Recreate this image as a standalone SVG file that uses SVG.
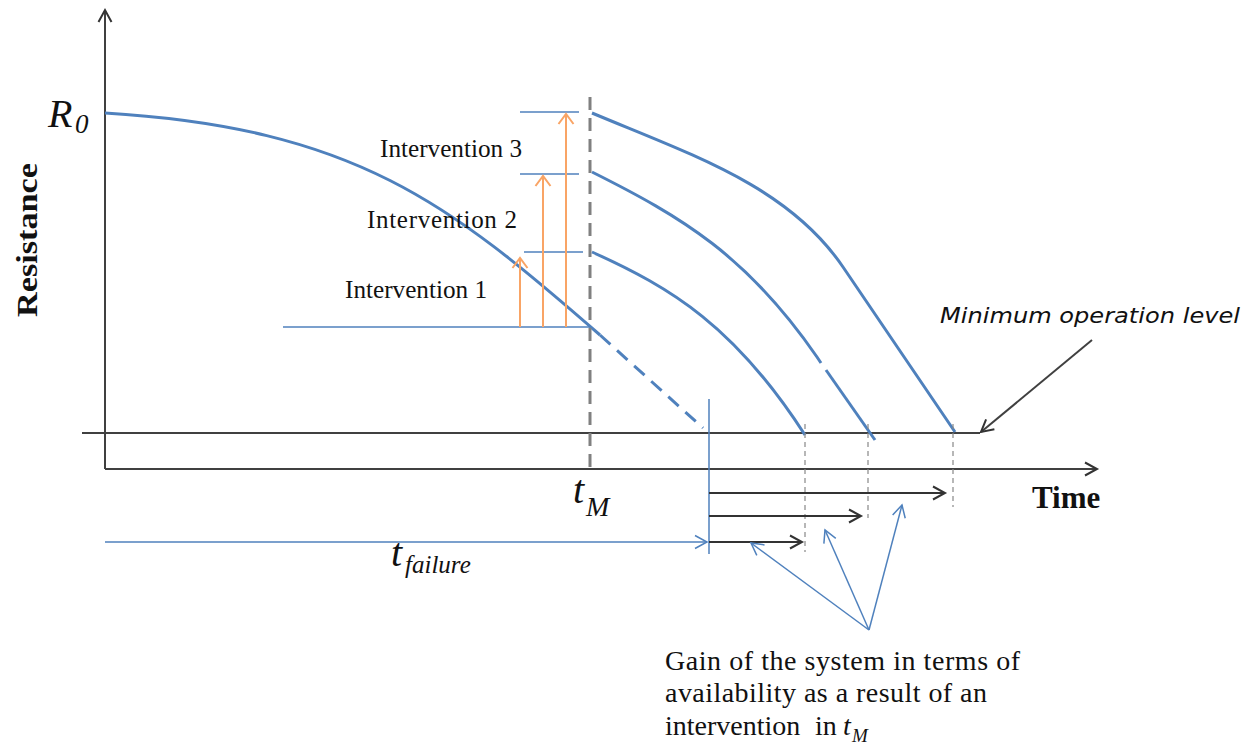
<svg xmlns="http://www.w3.org/2000/svg" width="1252" height="746" viewBox="0 0 1252 746">
<style>
.serif{font-family:"Liberation Serif","Times New Roman",serif;fill:#111}
.it{font-style:italic}
.bold{font-weight:bold}
.sans{font-family:"DejaVu Sans","Liberation Sans",Arial,sans-serif;fill:#111}
.curve{fill:none;stroke:#4F81BD;stroke-width:3}
.thinb{fill:none;stroke:#4F81BD;stroke-width:1.5}
.axis{fill:none;stroke:#404040;stroke-width:2}
.gain{fill:none;stroke:#333;stroke-width:2}
.orange{fill:none;stroke:#F9A465;stroke-width:2}
.vdash{fill:none;stroke:#888;stroke-width:1.2;stroke-dasharray:5 4}
</style>
<defs>
<marker id="ak" markerUnits="userSpaceOnUse" markerWidth="16" markerHeight="16" refX="13" refY="8" orient="auto">
<path d="M1,1.5 L13,8 L1,14.5" fill="none" stroke="#333" stroke-width="2"/>
</marker>
<marker id="ab" markerUnits="userSpaceOnUse" markerWidth="16" markerHeight="16" refX="13" refY="8" orient="auto">
<path d="M1,1.5 L13,8 L1,14.5" fill="none" stroke="#4F81BD" stroke-width="1.5"/>
</marker>
<marker id="ao" markerUnits="userSpaceOnUse" markerWidth="16" markerHeight="18" refX="11" refY="9" orient="auto">
<path d="M1,1.5 L11,9 L1,16.5" fill="none" stroke="#F9A465" stroke-width="2"/>
</marker>
</defs>

<g id="axes">
<path class="axis" d="M105,469 L105,10" marker-end="url(#ak)"/>
<path class="axis" d="M105,469 L1097,469" marker-end="url(#ak)"/>
<path class="axis" d="M82,433 L980,433"/>
</g>

<g id="labels">
<text class="serif bold" x="0" y="0" font-size="30" textLength="154" lengthAdjust="spacingAndGlyphs" text-anchor="middle" transform="translate(37,240) rotate(-90)">Resistance</text>
<text class="serif it" x="48" y="127" font-size="40">R</text>
<text class="serif it" x="75" y="133" font-size="27">0</text>
<text class="serif bold" x="1032" y="508" font-size="31">Time</text>
<text class="serif it" x="573" y="503" font-size="40">t</text>
<text class="serif it" x="586" y="516" font-size="28">M</text>
<text class="serif it" x="391" y="566" font-size="40">t</text>
<text class="serif it" x="405" y="573" font-size="25">failure</text>
</g>

<g id="main-curve">
<path class="curve" d="M105,113 C355,128 450,204 600,335"/>
<path class="curve" d="M600,335 L703,428" stroke-dasharray="14 9"/>
<path class="thinb" d="M283,327 L590,327"/>
</g>

<g id="tM-line">
<path d="M590,97 L590,472" fill="none" stroke="#808080" stroke-width="3" stroke-dasharray="13 8"/>
</g>

<g id="intervention-1">
<path class="thinb" d="M524,252 L583,252"/>
<path class="orange" d="M520,327 L520,258" marker-end="url(#ao)"/>
<text class="serif" x="345" y="298" font-size="25" textLength="142" lengthAdjust="spacingAndGlyphs">Intervention 1</text>
<path class="curve" d="M592,252 C672,288 735,326.5 805,435"/>
</g>

<g id="intervention-2">
<path class="thinb" d="M520,174 L579,174"/>
<path class="orange" d="M543,327 L543,176" marker-end="url(#ao)"/>
<text class="serif" x="367" y="228" font-size="25" textLength="150" lengthAdjust="spacing">Intervention  2</text>
<path class="curve" d="M592,172 C682,217 747,255.5 817,357 L821,363"/>
<path class="curve" d="M826,370 L875,440"/>
</g>

<g id="intervention-3">
<path class="thinb" d="M520,112 L579,112"/>
<path class="orange" d="M566,327 L566,114" marker-end="url(#ao)"/>
<text class="serif" x="380" y="157" font-size="25" textLength="142" lengthAdjust="spacingAndGlyphs">Intervention 3</text>
<path class="curve" d="M592,113 C692,155 788,186 843,267 L955,432"/>
</g>

<g id="minimum-level-label">
<text class="sans it" x="940" y="323" font-size="22" textLength="300" lengthAdjust="spacingAndGlyphs">Minimum operation level</text>
</g>

<g id="connectors">
<path class="axis" d="M1092,340 L981,432" marker-end="url(#ak)"/>
<path class="vdash" d="M805,424 L805,552"/>
<path class="vdash" d="M868,424 L868,518"/>
<path class="vdash" d="M953,424 L953,507"/>
<path class="thinb" d="M709,399 L709,554"/>
<path class="gain" d="M709,493 L945,493" marker-end="url(#ak)"/>
<path class="gain" d="M709,516 L861,516" marker-end="url(#ak)"/>
<path class="gain" d="M709,542 L802,542" marker-end="url(#ak)"/>
<path class="thinb" d="M105,542 L707,542" marker-end="url(#ab)"/>
<path class="thinb" d="M869,630 L751,543" marker-end="url(#ab)"/>
<path class="thinb" d="M869,630 L825,530" marker-end="url(#ab)"/>
<path class="thinb" d="M869,630 L902,505" marker-end="url(#ab)"/>
</g>

<g id="gain-label">
<text class="serif" x="665" y="670" font-size="28" textLength="355" lengthAdjust="spacing">Gain of the system in terms of</text>
<text class="serif" x="665" y="702" font-size="28" textLength="322" lengthAdjust="spacing">availability as a result of an</text>
<text class="serif" x="665" y="735" font-size="28">intervention</text>
<text class="serif" x="815" y="735" font-size="28">in</text>
<text class="serif it" x="843" y="735" font-size="28">t</text>
<text class="serif it" x="852" y="742" font-size="19">M</text>
</g>
</svg>
